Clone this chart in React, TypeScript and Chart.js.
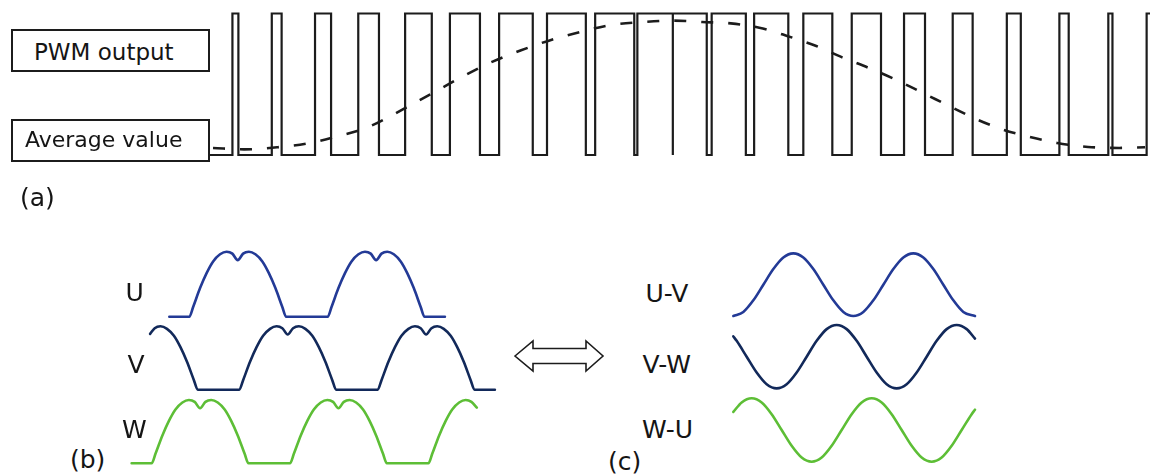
import React, { useEffect, useRef } from "react";
import { Chart, registerables } from "chart.js";

Chart.register(...registerables);

const FONT = '"DejaVu Sans", sans-serif';
const INK = "#1c1c1c";
const U_COLOR = "#233a96";
const V_COLOR = "#12295a";
const W_COLOR = "#5dbe36";

// ---------- (a) PWM output, x in electrical degrees, y as logic level ----------
const pwmStartDeg = -1.5;
const pwmEndDeg = 361.9;
const pwmRiseDeg = [7.5, 22.7, 39.4, 56.1, 74.2, 91.5, 110.5, 129.0, 147.6, 163.9, 177.6, 192.6, 209.0, 228.0, 246.7, 266.9, 285.7, 306.6, 326.9, 345.8, 360.6];
const pwmFallDeg = [9.8, 26.5, 45.6, 64.1, 84.5, 103.1, 123.5, 144.0, 162.7, 177.6, 190.7, 205.8, 222.2, 239.2, 258.0, 275.0, 293.4, 312.0, 330.5, 347.4];

// Average value (dashed)
const avgDeg = [0, 12, 25, 36, 47, 59, 68, 77, 87, 97, 108, 119, 130, 142, 154, 166, 178, 189, 200, 211, 222, 233, 243, 254, 264, 274, 284, 294, 305, 315, 326, 338, 350, 360];
const avgLevel = [0.05, 0.04, 0.055, 0.08, 0.127, 0.19, 0.27, 0.36, 0.46, 0.56, 0.66, 0.74, 0.81, 0.87, 0.92, 0.94, 0.95, 0.94, 0.93, 0.9, 0.84, 0.77, 0.69, 0.61, 0.53, 0.44, 0.35, 0.26, 0.18, 0.13, 0.085, 0.057, 0.05, 0.055];

// ---------- (b) phase voltages (normalised) ----------
const uDeg = [-52, 0, 10, 28, 45, 62, 80, 97, 112, 126, 140, 155, 172, 190, 207, 224, 242, 252, 360, 370, 388, 405, 422, 440, 457, 472, 486, 500, 515, 532, 550, 567, 584, 602, 612, 665];
const uLevel = [0, 0, 0.15, 0.44, 0.67, 0.85, 0.96, 1, 0.97, 0.87, 0.97, 1, 0.96, 0.85, 0.67, 0.44, 0.15, 0, 0, 0.15, 0.44, 0.67, 0.85, 0.96, 1, 0.97, 0.87, 0.97, 1, 0.96, 0.85, 0.67, 0.44, 0.15, 0, 0];

const vDeg = [-102, -90, -75, -58, -40, -23, -6, 12, 22, 130, 140, 158, 175, 192, 210, 227, 242, 256, 270, 285, 302, 320, 337, 354, 372, 382, 490, 500, 518, 535, 552, 570, 587, 602, 616, 630, 645, 662, 680, 697, 714, 732, 742, 795];
const vLevel = [0.88, 0.97, 1, 0.96, 0.85, 0.67, 0.44, 0.15, 0, 0, 0.15, 0.44, 0.67, 0.85, 0.96, 1, 0.97, 0.87, 0.97, 1, 0.96, 0.85, 0.67, 0.44, 0.15, 0, 0, 0.15, 0.44, 0.67, 0.85, 0.96, 1, 0.97, 0.87, 0.97, 1, 0.96, 0.85, 0.67, 0.44, 0.15, 0, 0];

const wDeg = [-150, -98, -88, -70, -53, -36, -18, -1, 14, 28, 42, 57, 74, 92, 109, 126, 144, 154, 262, 272, 290, 307, 324, 342, 359, 374, 388, 402, 417, 434, 452, 469, 486, 504, 514, 622, 632, 650, 667, 684, 702, 719, 734, 748];
const wLevel = [0, 0, 0.15, 0.44, 0.67, 0.85, 0.96, 1, 0.97, 0.87, 0.97, 1, 0.96, 0.85, 0.67, 0.44, 0.15, 0, 0, 0.15, 0.44, 0.67, 0.85, 0.96, 1, 0.97, 0.87, 0.97, 1, 0.96, 0.85, 0.67, 0.44, 0.15, 0, 0, 0.15, 0.44, 0.67, 0.85, 0.96, 1, 0.97, 0.88];

// ---------- (c) line voltages (normalised) ----------
const uvDeg = [0, 30, 60, 90, 120, 150, 180, 210, 240, 270, 300, 330, 360, 390, 420, 450, 480, 510, 540, 570, 600, 630, 660, 690, 725];
const uvLevel = [-1, -0.87, -0.5, 0, 0.5, 0.87, 1, 0.87, 0.5, 0, -0.5, -0.87, -1, -0.87, -0.5, 0, 0.5, 0.87, 1, 0.87, 0.5, 0, -0.5, -0.87, -1];

const vwDeg = [0, 10, 40, 70, 100, 130, 160, 190, 220, 250, 280, 310, 340, 370, 400, 430, 460, 490, 520, 550, 580, 610, 640, 670, 700, 725];
const vwLevel = [0.64, 0.5, 0, -0.5, -0.87, -1, -0.87, -0.5, 0, 0.5, 0.87, 1, 0.87, 0.5, 0, -0.5, -0.87, -1, -0.87, -0.5, 0, 0.5, 0.87, 1, 0.87, 0.57];

const wuDeg = [0, 25, 55, 85, 115, 145, 175, 205, 235, 265, 295, 325, 355, 385, 415, 445, 475, 505, 535, 565, 595, 625, 655, 685, 715, 725];
const wuLevel = [0.57, 0.87, 1, 0.87, 0.5, 0, -0.5, -0.87, -1, -0.87, -0.5, 0, 0.5, 0.87, 1, 0.87, 0.5, 0, -0.5, -0.87, -1, -0.87, -0.5, 0, 0.5, 0.64];

// ---------- labels ----------
const phaseLabels = ["U", "V", "W"];
const lineLabels = ["U-V", "V-W", "W-U"];
const panelLabels = ["(a)", "(b)", "(c)"];
const boxLabels = ["PWM output", "Average value"];

const zip = (xs: number[], ys: number[]) => xs.map((x, i) => ({ x, y: ys[i] }));

function buildPwm() {
  const pts: { x: number; y: number }[] = [{ x: pwmStartDeg, y: 0 }];
  pwmRiseDeg.forEach((r, i) => {
    pts.push({ x: r, y: 0 }, { x: r, y: 1 });
    const f = pwmFallDeg[i];
    if (f !== undefined) pts.push({ x: f, y: 1 }, { x: f, y: 0 });
    else pts.push({ x: pwmEndDeg, y: 1 });
  });
  return pts;
}

function baseOptions(xMin: number, xMax: number, yScales: any, padding: any) {
  const scales: any = { x: { type: "linear", min: xMin, max: xMax, display: false } };
  Object.keys(yScales).forEach((k) => {
    scales[k] = { type: "linear", display: false, min: yScales[k][0], max: yScales[k][1] };
  });
  return {
    responsive: false,
    animation: false,
    events: [],
    layout: { padding, autoPadding: false },
    plugins: { legend: { display: false }, tooltip: { enabled: false }, title: { display: false } },
    scales,
    elements: { point: { radius: 0 } },
  };
}

function wave(label: string, xs: number[], ys: number[], axis: string, color: string) {
  return {
    label,
    data: zip(xs, ys),
    yAxisID: axis,
    borderColor: color,
    borderWidth: 2.6,
    cubicInterpolationMode: "monotone",
    pointRadius: 0,
    clip: false,
    fill: false,
    borderCapStyle: "round",
  };
}

function ChartCanvas({ left, top, width, height, build }: any) {
  const ref = useRef<HTMLCanvasElement>(null);
  useEffect(() => {
    const chart = new Chart(ref.current as HTMLCanvasElement, build());
    return () => chart.destroy();
  }, []);
  return (
    <div style={{ position: "absolute", left, top, width, height }}>
      <canvas ref={ref} width={width} height={height} style={{ display: "block" }} />
    </div>
  );
}

const buildA = () => ({
  type: "line",
  data: {
    datasets: [
      {
        label: "PWM output",
        data: buildPwm(),
        yAxisID: "y",
        borderColor: INK,
        borderWidth: 2.2,
        tension: 0,
        pointRadius: 0,
        clip: false,
        borderJoinStyle: "miter",
      },
      {
        label: "Average value",
        data: zip(avgDeg, avgLevel),
        yAxisID: "y",
        borderColor: INK,
        borderWidth: 2.6,
        borderDash: [12, 15],
        cubicInterpolationMode: "monotone",
        pointRadius: 0,
        clip: false,
      },
    ],
  },
  options: baseOptions(-1.55, 361.9, { y: [0, 1] }, { left: 209, right: 0, top: 13.5, bottom: 20 }),
});

const buildB = () => ({
  type: "line",
  data: {
    datasets: [
      wave("U", uDeg, uLevel, "yU", U_COLOR),
      wave("V", vDeg, vLevel, "yV", V_COLOR),
      wave("W", wDeg, wLevel, "yW", W_COLOR),
    ],
  },
  options: baseOptions(
    -206.3,
    834.3,
    { yU: [-2.42, 1.18], yV: [-1.33, 2.361], yW: [-0.169, 3.528] },
    0
  ),
});

const buildC = () => ({
  type: "line",
  data: {
    datasets: [
      wave("U-V", uvDeg, uvLevel, "yUV", U_COLOR),
      wave("V-W", vwDeg, vwLevel, "yVW", V_COLOR),
      wave("W-U", wuDeg, wuLevel, "yWU", W_COLOR),
    ],
  },
  options: baseOptions(
    -100,
    800,
    { yUV: [-6.048, 1.428], yVW: [-3.7, 3.681], yWU: [-1.388, 5.994] },
    0
  ),
});

function Label({ text, left, top, size = 25 }: any) {
  return (
    <div
      style={{
        position: "absolute",
        left,
        top,
        fontFamily: FONT,
        fontSize: size,
        lineHeight: `${size}px`,
        color: "#151515",
        whiteSpace: "nowrap",
      }}
    >
      {text}
    </div>
  );
}

const boxStyle: React.CSSProperties = {
  position: "absolute",
  left: 11,
  width: 199,
  height: 43,
  border: `2px solid ${INK}`,
  boxSizing: "border-box",
  background: "#fff",
};

export default function App() {
  useEffect(() => {
    document.body.style.margin = "0";
  }, []);
  return (
    <div style={{ position: "fixed", left: 0, top: 0, width: 1150, height: 474, background: "#fff", overflow: "hidden" }}>
      <ChartCanvas left={0} top={0} width={1150} height={175} build={buildA} />
      <ChartCanvas left={110} top={240} width={400} height={234} build={buildB} />
      <ChartCanvas left={700} top={240} width={300} height={234} build={buildC} />

      <div style={{ ...boxStyle, top: 29 }} />
      <div style={{ ...boxStyle, top: 119 }} />
      <Label text={boxLabels[0]} left={34} top={40.5} size={23} />
      <Label text={boxLabels[1]} left={25} top={129} size={22} />

      <Label text={panelLabels[0]} left={20} top={185} />
      <Label text={panelLabels[1]} left={70} top={447} />
      <Label text={panelLabels[2]} left={608} top={449} />

      <Label text={phaseLabels[0]} left={125.5} top={279.5} />
      <Label text={phaseLabels[1]} left={127.5} top={352} />
      <Label text={phaseLabels[2]} left={122} top={417} />

      <Label text={lineLabels[0]} left={645.5} top={281} />
      <Label text={lineLabels[1]} left={642.5} top={352} />
      <Label text={lineLabels[2]} left={642} top={417} />

      <svg width={1150} height={474} style={{ position: "absolute", left: 0, top: 0, pointerEvents: "none" }}>
        <polygon
          points="515,356 533,341 533,348.5 586,348.5 586,341 603,356 586,371 586,363.5 533,363.5 533,371"
          fill="#fff"
          stroke={INK}
          strokeWidth={1.6}
          strokeLinejoin="miter"
        />
      </svg>
    </div>
  );
}
